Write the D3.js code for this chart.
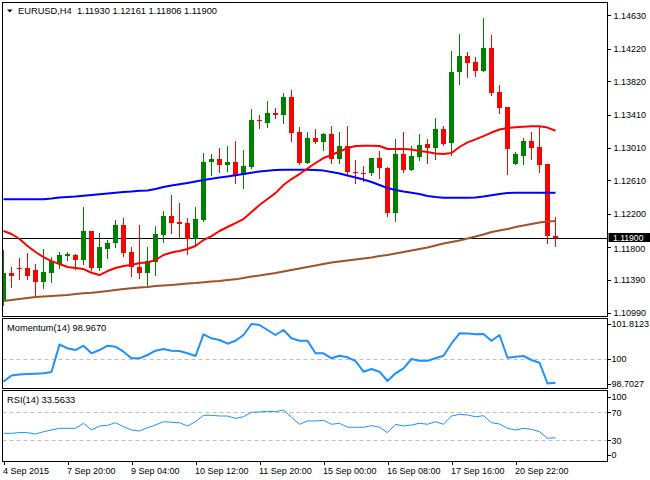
<!DOCTYPE html>
<html>
<head>
<meta charset="utf-8">
<script src="https://cdn.jsdelivr.net/npm/d3@7"></script>
<style>
  body { margin: 0; background: #fff; }
  svg { display: block; font-family: "Liberation Sans", Arial, sans-serif; }
</style>
</head>
<body>
<svg width="650" height="480"></svg>
<script>
// EURUSD H4 candles, oldest first
var opens = [1.11145, 1.11475, 1.11537, 1.11537, 1.11512, 1.11365, 1.11475, 1.11586, 1.11684, 1.11696,
  1.11635, 1.11990, 1.11537, 1.11769, 1.11843, 1.12063, 1.11733, 1.11549, 1.11475, 1.11610,
  1.11941, 1.12173, 1.12100, 1.12087, 1.11892, 1.12124, 1.12834, 1.12871, 1.12797, 1.12834,
  1.12675, 1.12773, 1.13348, 1.13311, 1.13434, 1.13409, 1.13630, 1.13201, 1.12822, 1.13128,
  1.13079, 1.13177, 1.12871, 1.13030, 1.12712, 1.12705, 1.12699, 1.12883, 1.12761, 1.12210,
  1.12932, 1.12736, 1.12895, 1.13054, 1.13005, 1.13238, 1.13067, 1.13936, 1.14132, 1.14058,
  1.13948, 1.14229, 1.13691, 1.13507, 1.12810, 1.12908, 1.13091, 1.13018, 1.12810, 1.11930];
var highs = [1.11757, 1.11549, 1.11659, 1.11720, 1.11586, 1.11769, 1.11671, 1.11733, 1.11733, 1.11708,
  1.12283, 1.11990, 1.11965, 1.11879, 1.12124, 1.12149, 1.11794, 1.12063, 1.11794, 1.12051,
  1.12234, 1.12430, 1.12332, 1.12149, 1.12283, 1.12944, 1.12932, 1.13005, 1.13030, 1.13091,
  1.12981, 1.13483, 1.13409, 1.13581, 1.13495, 1.13679, 1.13715, 1.13263, 1.13201, 1.13238,
  1.13189, 1.13275, 1.13201, 1.13275, 1.12859, 1.12785, 1.12883, 1.12969, 1.12773, 1.13116,
  1.13201, 1.13030, 1.13177, 1.13116, 1.13373, 1.13275, 1.14193, 1.14401, 1.14181, 1.14119,
  1.14597, 1.14389, 1.13777, 1.13507, 1.12957, 1.13128, 1.13201, 1.13263, 1.12810, 1.12161];
var lows = [1.11084, 1.11304, 1.11402, 1.11402, 1.11182, 1.11292, 1.11365, 1.11537, 1.11635, 1.11524,
  1.11586, 1.11512, 1.11512, 1.11659, 1.11794, 1.11684, 1.11439, 1.11414, 1.11316, 1.11451,
  1.11855, 1.11965, 1.11916, 1.11708, 1.11806, 1.12112, 1.12675, 1.12712, 1.12724, 1.12577,
  1.12516, 1.12761, 1.13250, 1.13263, 1.13373, 1.13311, 1.13091, 1.12810, 1.12822, 1.13067,
  1.12981, 1.12822, 1.12822, 1.12687, 1.12577, 1.12602, 1.12675, 1.12638, 1.12173, 1.12112,
  1.12712, 1.12736, 1.12859, 1.12822, 1.12871, 1.13042, 1.12920, 1.13789, 1.13875, 1.13887,
  1.13948, 1.13654, 1.13434, 1.12687, 1.12810, 1.12810, 1.12871, 1.12712, 1.11843, 1.11806];
var closes = [1.11475, 1.11439, 1.11524, 1.11439, 1.11365, 1.11488, 1.11622, 1.11696, 1.11708, 1.11635,
  1.11990, 1.11537, 1.11794, 1.11843, 1.12063, 1.11720, 1.11549, 1.11475, 1.11622, 1.11953,
  1.12173, 1.12087, 1.12075, 1.11892, 1.12136, 1.12834, 1.12871, 1.12797, 1.12834, 1.12675,
  1.12785, 1.13348, 1.13336, 1.13434, 1.13409, 1.13630, 1.13189, 1.12822, 1.13128, 1.13079,
  1.13177, 1.12871, 1.13030, 1.12712, 1.12699, 1.12690, 1.12883, 1.12761, 1.12210, 1.12932,
  1.12736, 1.12908, 1.13042, 1.13005, 1.13238, 1.13054, 1.13936, 1.14132, 1.14046, 1.13948,
  1.14229, 1.13679, 1.13495, 1.12993, 1.12932, 1.13091, 1.13005, 1.12797, 1.11930, 1.11900];

// moving averages
var maRed = [1.11990, 1.11953, 1.11892, 1.11806, 1.11733, 1.11671, 1.11622, 1.11586, 1.11549, 1.11537,
  1.11524, 1.11479, 1.11451, 1.11500, 1.11537, 1.11561, 1.11573, 1.11598, 1.11604, 1.11635,
  1.11696, 1.11727, 1.11745, 1.11769, 1.11806, 1.11879, 1.11928, 1.11990, 1.12039, 1.12087,
  1.12136, 1.12222, 1.12308, 1.12381, 1.12454, 1.12553, 1.12626, 1.12687, 1.12755, 1.12822,
  1.12883, 1.12920, 1.12963, 1.13005, 1.13030, 1.13034, 1.13034, 1.13030, 1.12993, 1.12993,
  1.12993, 1.12987, 1.12969, 1.12957, 1.12938, 1.12932, 1.12944, 1.13018, 1.13075, 1.13112,
  1.13152, 1.13195, 1.13232, 1.13250, 1.13259, 1.13265, 1.13272, 1.13272, 1.13256, 1.13217];
var maBlue = [1.12378, 1.12378, 1.12379, 1.12379, 1.12378, 1.12379, 1.12387, 1.12400, 1.12406, 1.12412,
  1.12422, 1.12430, 1.12439, 1.12449, 1.12457, 1.12467, 1.12473, 1.12482, 1.12485, 1.12504,
  1.12528, 1.12546, 1.12561, 1.12577, 1.12595, 1.12614, 1.12629, 1.12644, 1.12657, 1.12671,
  1.12687, 1.12703, 1.12718, 1.12728, 1.12736, 1.12740, 1.12741, 1.12741, 1.12740, 1.12736,
  1.12729, 1.12712, 1.12693, 1.12669, 1.12644, 1.12620, 1.12589, 1.12553, 1.12516, 1.12491,
  1.12473, 1.12458, 1.12442, 1.12418, 1.12406, 1.12397, 1.12397, 1.12397, 1.12397, 1.12400,
  1.12412, 1.12427, 1.12442, 1.12455, 1.12458, 1.12458, 1.12458, 1.12458, 1.12458, 1.12458];
var maBrown = [1.11133, 1.11145, 1.11157, 1.11169, 1.11182, 1.11188, 1.11194, 1.11200, 1.11206, 1.11218,
  1.11227, 1.11233, 1.11243, 1.11255, 1.11267, 1.11280, 1.11288, 1.11298, 1.11304, 1.11316,
  1.11322, 1.11329, 1.11337, 1.11347, 1.11353, 1.11362, 1.11371, 1.11378, 1.11390, 1.11398,
  1.11414, 1.11433, 1.11445, 1.11460, 1.11475, 1.11494, 1.11512, 1.11531, 1.11549, 1.11567,
  1.11586, 1.11604, 1.11616, 1.11629, 1.11641, 1.11653, 1.11665, 1.11684, 1.11696, 1.11714,
  1.11733, 1.11751, 1.11769, 1.11788, 1.11812, 1.11837, 1.11855, 1.11873, 1.11898, 1.11922,
  1.11947, 1.11977, 1.11996, 1.12014, 1.12039, 1.12057, 1.12075, 1.12094, 1.12106, 1.12112];

// indicator windows
var momentum = [98.796, 99.120, 99.172, 99.199, 99.214, 99.235, 99.303, 100.741, 100.542, 100.453,
  100.678, 100.280, 100.453, 100.678, 100.626, 100.364, 100.019, 100.019, 100.192, 100.416,
  100.505, 100.416, 100.401, 100.280, 100.139, 101.274, 101.064, 100.976, 100.782, 100.939,
  101.237, 101.812, 101.760, 101.498, 101.237, 101.498, 101.064, 100.939, 100.939, 100.280,
  100.280, 100.019, 100.155, 100.071, 99.878, 99.319, 99.460, 99.319, 98.832, 99.235,
  99.496, 99.982, 99.894, 99.894, 100.019, 100.155, 100.793, 101.326, 101.315, 101.274,
  101.289, 100.939, 101.237, 100.050, 100.103, 100.139, 99.930, 99.789, 98.703, 98.744];
var rsi = [40.0, 40.0, 41.1, 40.9, 39.0, 42.3, 44.7, 47.1, 47.1, 47.1,
  54.3, 44.7, 50.4, 51.4, 55.1, 49.4, 44.7, 43.3, 48.0, 51.9,
  56.6, 55.7, 55.1, 50.4, 56.6, 65.7, 65.7, 64.7, 64.7, 61.4,
  63.7, 70.0, 70.4, 71.4, 70.9, 73.3, 62.9, 52.9, 57.6, 57.6,
  58.6, 52.9, 54.3, 48.6, 48.6, 48.6, 50.9, 48.6, 40.9, 52.9,
  50.4, 51.9, 54.3, 52.9, 56.6, 52.9, 64.7, 67.1, 66.1, 63.7,
  65.1, 55.1, 53.3, 47.1, 44.7, 47.1, 45.7, 42.3, 32.9, 33.6];

// axis labels
var priceTicks = [1.14630, 1.14220, 1.13820, 1.13410, 1.13010, 1.12610, 1.12200, 1.11800, 1.11390, 1.10990];
var momTicks = [101.8123, 100, 98.7027];
var rsiTicks = [100, 70, 30, 0];
var rsiLevels = [70, 30];
var timeTickIdx = [0, 8, 16, 24, 32, 40, 48, 56, 64];
var timeTickLabels = ["4 Sep 2015", "7 Sep 20:00", "9 Sep 04:00", "10 Sep 12:00", "11 Sep 20:00",
  "15 Sep 00:00", "16 Sep 08:00", "17 Sep 16:00", "20 Sep 22:00"];
var symbol = "EURUSD,H4";
var momName = "Momentum(14) 98.9670";
var rsiName = "RSI(14) 33.5633";

var svg = d3.select("svg");
var left = 2.5, right = 607.5;
var main = {top: 2.5, bottom: 316.5},
    mom = {top: 318.5, bottom: 388.5},
    rsiP = {top: 390.5, bottom: 461.5};

var n = closes.length;
var x = d3.scaleLinear().domain([0, n - 1]).range([3.5, 3.5 + 8 * (n - 1)]);
var y = d3.scaleLinear().domain([1.10990, 1.14630]).range([312.7, 15.3]);
var yMom = d3.scaleLinear().domain([98.7027, 101.8123]).range([383.5, 324]);
var yRsi = d3.scaleLinear().domain([0, 100]).range([461.3, 391.3]);

svg.append("rect").attr("width", 650).attr("height", 480).attr("fill", "#fff");

var defs = svg.append("defs");
function clip(id, top, bottom) {
  defs.append("clipPath").attr("id", id).append("rect")
    .attr("x", left + 0.5).attr("y", top + 0.5)
    .attr("width", right - left - 1).attr("height", bottom - top - 1);
}
clip("cMain", main.top, main.bottom);
clip("cMom", mom.top, mom.bottom);
clip("cRsi", rsiP.top, rsiP.bottom);

// main window
var g = svg.append("g").attr("clip-path", "url(#cMain)");

g.append("line")
  .attr("x1", left).attr("x2", right)
  .attr("y1", Math.round(y(closes[n - 1])) + 0.5).attr("y2", Math.round(y(closes[n - 1])) + 0.5)
  .attr("stroke", "#000").attr("shape-rendering", "crispEdges");

var idx = d3.range(n);
var candle = g.selectAll(".candle").data(idx).enter().append("g")
  .attr("fill", i => closes[i] >= opens[i] ? "#008000" : "#ff0000")
  .attr("stroke", i => closes[i] >= opens[i] ? "#008000" : "#ff0000")
  .attr("shape-rendering", "crispEdges");
candle.append("line")
  .attr("x1", i => x(i)).attr("x2", i => x(i))
  .attr("y1", i => Math.round(y(highs[i])))
  .attr("y2", i => Math.round(y(lows[i])) + 1);
candle.append("rect")
  .attr("stroke", "none")
  .attr("x", i => x(i) - 2.5)
  .attr("width", 5)
  .attr("y", i => Math.round(Math.min(y(opens[i]), y(closes[i]))))
  .attr("height", i => Math.max(1, Math.round(Math.abs(y(opens[i]) - y(closes[i])))));

function maLine(vals, scale) {
  return d3.line().x((d, i) => x(i)).y(d => scale(d))(vals);
}
[[maBrown, "#a0522d"], [maBlue, "#0000ff"], [maRed, "#ff0000"]].forEach(function (m) {
  g.append("path")
    .attr("d", maLine(m[0], y))
    .attr("fill", "none")
    .attr("stroke", m[1])
    .attr("stroke-width", 2)
    .attr("stroke-linejoin", "round");
});

// momentum window
var gm = svg.append("g").attr("clip-path", "url(#cMom)");
gm.append("line")
  .attr("x1", left).attr("x2", right)
  .attr("y1", Math.round(yMom(100)) + 0.5).attr("y2", Math.round(yMom(100)) + 0.5)
  .attr("stroke", "#c0c0c0").attr("stroke-dasharray", "4,3");
gm.append("path")
  .attr("d", maLine(momentum, yMom))
  .attr("fill", "none").attr("stroke", "#1e90ff").attr("stroke-width", 2)
  .attr("stroke-linejoin", "round");

// rsi window
var gr = svg.append("g").attr("clip-path", "url(#cRsi)");
gr.selectAll(".lvl").data(rsiLevels).enter().append("line")
  .attr("x1", left).attr("x2", right)
  .attr("y1", d => Math.round(yRsi(d)) + 0.5).attr("y2", d => Math.round(yRsi(d)) + 0.5)
  .attr("stroke", "#c0c0c0").attr("stroke-dasharray", "4,3");
gr.append("path")
  .attr("d", maLine(rsi, yRsi))
  .attr("fill", "none").attr("stroke", "#1e90ff").attr("stroke-width", 1);

// frames
[main, mom, rsiP].forEach(function (p) {
  svg.append("rect")
    .attr("x", left).attr("y", p.top)
    .attr("width", right - left).attr("height", p.bottom - p.top)
    .attr("fill", "none").attr("stroke", "#000")
    .attr("shape-rendering", "crispEdges");
});

// axes
function styleAxis(sel) {
  sel.select(".domain").remove();
  sel.selectAll("text").attr("fill", "#000").attr("font-size", "9px")
    .attr("font-family", "'Liberation Sans', Arial, sans-serif");
  sel.selectAll("line").attr("stroke", "#000").attr("shape-rendering", "crispEdges");
}

var lastPrice = closes[n - 1];
var pa = svg.append("g").attr("transform", "translate(" + right + ",0)")
  .call(d3.axisRight(y).tickValues(priceTicks).tickSize(3).tickPadding(3)
    .tickFormat(d3.format(".5f")))
  .call(styleAxis);
// the label right under the last-price box sits a little lower so both stay readable
pa.selectAll(".tick text")
  .filter(d => Math.abs(y(d) - y(lastPrice)) < 12 && d < lastPrice)
  .attr("y", 2);

svg.append("g").attr("transform", "translate(" + right + ",0)")
  .call(d3.axisRight(yMom).tickValues(momTicks).tickSize(3).tickPadding(1)
    .tickFormat(d => d === 100 ? "100" : d.toFixed(4)))
  .call(styleAxis);

var ra = svg.append("g").attr("transform", "translate(" + right + ",0)")
  .call(d3.axisRight(yRsi).tickValues(rsiTicks).tickSize(3).tickPadding(1))
  .call(styleAxis);
// keep the end labels inside the window, as the terminal does
ra.selectAll(".tick")
  .filter(d => d === 100 || d === 0)
  .attr("transform", d => "translate(0," + (d === 100 ? yRsi(d) + 6 : yRsi(d) - 6) + ")");

svg.append("g").attr("transform", "translate(0," + rsiP.bottom + ")")
  .call(d3.axisBottom(x).tickValues(timeTickIdx).tickSize(3).tickPadding(3)
    .tickFormat((d, i) => timeTickLabels[i]))
  .call(styleAxis)
  .selectAll("text").attr("text-anchor", "start").attr("x", -1);

// last price marker
var lastY = Math.round(y(lastPrice));
svg.append("rect")
  .attr("x", right + 1).attr("y", lastY - 5)
  .attr("width", 650 - right - 1).attr("height", 9)
  .attr("fill", "#000");
svg.append("text")
  .attr("x", 613).attr("y", lastY + 2.5)
  .attr("fill", "#fff").attr("font-size", "8.6px")
  .text(d3.format(".5f")(lastPrice));

// titles
svg.append("path").attr("d", "M7,9.5 L12.5,9.5 L9.75,12.5 Z").attr("fill", "#000");
svg.append("text")
  .attr("x", 18).attr("y", 14).attr("font-size", "9.3px").attr("fill", "#000")
  .attr("xml:space", "preserve")
  .text(symbol + "  " + [opens[n - 1], highs[n - 1], lows[n - 1], closes[n - 1]]
    .map(d3.format(".5f")).join(" "));
svg.append("text")
  .attr("x", 7).attr("y", 330.5).attr("font-size", "9.3px").attr("fill", "#000")
  .text(momName);
svg.append("text")
  .attr("x", 7).attr("y", 402.5).attr("font-size", "9.3px").attr("fill", "#000")
  .text(rsiName);
</script>
</body>
</html>
